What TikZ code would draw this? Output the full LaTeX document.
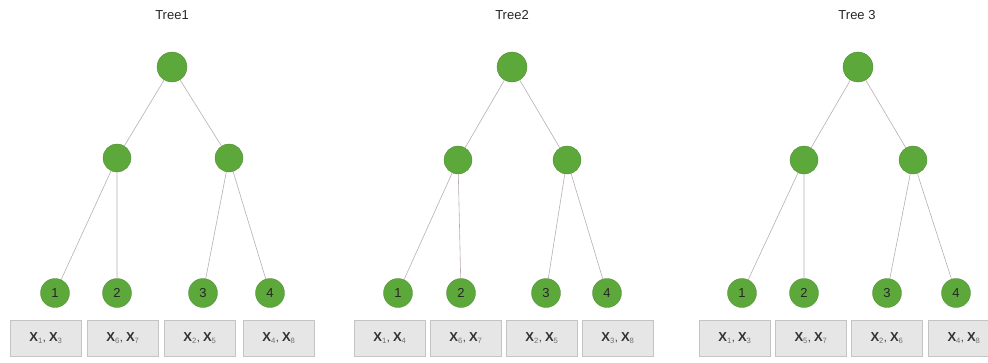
\documentclass[tikz,border=0pt]{standalone}
\usepackage{fontspec}
\setmainfont{Liberation Sans}
\usetikzlibrary{positioning}

\definecolor{leafgreen}{HTML}{5DA83B}
\definecolor{boxgray}{HTML}{E6E6E6}
\definecolor{boxline}{HTML}{C4C4C4}
\definecolor{edgegray}{HTML}{B8AEB0}
\newcommand{\xx}[2]{{\fontsize{13}{13}\selectfont\textbf{X}}\textsubscript{\textcolor{black!55}{#1}}, {\fontsize{13}{13}\selectfont\textbf{X}}\textsubscript{\textcolor{black!55}{#2}}}

\begin{document}
\begin{tikzpicture}[
  x=1pt, y=-1pt,
  split/.style={circle, fill=leafgreen, draw=leafgreen!80!black, line width=0.3pt, minimum size=28pt, inner sep=0pt},
  rootnode/.style={split, minimum size=30pt},
  leaf/.style={split, minimum size=29pt, font=\fontsize{13}{13}\selectfont, text=black!85},
  bag/.style={draw=boxline, fill=boxgray, minimum width=71pt, minimum height=36pt, inner sep=0pt, font=\fontsize{11}{11}\selectfont, text=black!80},
  title/.style={font=\fontsize{13}{13}\selectfont, text=black!85},
  edge/.style={draw=edgegray, line width=0.6pt}
]
\useasboundingbox (0,0) rectangle (988,362);

% first tree
\node[title] (t1) at (172,15) {Tree1};
\node[rootnode] (r1) at (172,67) {};
\node[split] (a1) at (117,158) {};
\node[split] (b1) at (229,158) {};
\node[leaf] (l11) at (55,293) {1};
\node[leaf] (l12) at (117,293) {2};
\node[leaf] (l13) at (203,293) {3};
\node[leaf] (l14) at (270,293) {4};
\node[bag] (s11) at (46,338) {\xx{1}{3}};
\node[bag] (s12) at (123,338) {\xx{6}{7}};
\node[bag] (s13) at (200,338) {\xx{2}{5}};
\node[bag] (s14) at (279,338) {\xx{4}{8}};
\path[edge] (r1) -- (a1) (r1) -- (b1);
\path[edge] (a1) -- (l11) (a1) -- (l12) (b1) -- (l13) (b1) -- (l14);

% second tree
\node[title] (t2) at (512,15) {Tree2};
\node[rootnode] (r2) at (512,67) {};
\node[split] (a2) at (458,160) {};
\node[split] (b2) at (567,160) {};
\node[leaf] (l21) at (398,293) {1};
\node[leaf] (l22) at (461,293) {2};
\node[leaf] (l23) at (546,293) {3};
\node[leaf] (l24) at (607,293) {4};
\node[bag] (s21) at (390,338) {\xx{1}{4}};
\node[bag] (s22) at (466,338) {\xx{6}{7}};
\node[bag] (s23) at (542,338) {\xx{2}{5}};
\node[bag] (s24) at (618,338) {\xx{3}{8}};
\path[edge] (r2) -- (a2) (r2) -- (b2);
\path[edge] (a2) -- (l21) (a2) -- (l22) (b2) -- (l23) (b2) -- (l24);

% third tree
\node[title] (t3) at (857,15) {Tree 3};
\node[rootnode] (r3) at (858,67) {};
\node[split] (a3) at (804,160) {};
\node[split] (b3) at (913,160) {};
\node[leaf] (l31) at (742,293) {1};
\node[leaf] (l32) at (804,293) {2};
\node[leaf] (l33) at (887,293) {3};
\node[leaf] (l34) at (956,293) {4};
\node[bag] (s31) at (735,338) {\xx{1}{3}};
\node[bag] (s32) at (811,338) {\xx{5}{7}};
\node[bag] (s33) at (887,338) {\xx{2}{6}};
\node[bag] (s34) at (964,338) {\xx{4}{8}};
\path[edge] (r3) -- (a3) (r3) -- (b3);
\path[edge] (a3) -- (l31) (a3) -- (l32) (b3) -- (l33) (b3) -- (l34);
\end{tikzpicture}
\end{document}
